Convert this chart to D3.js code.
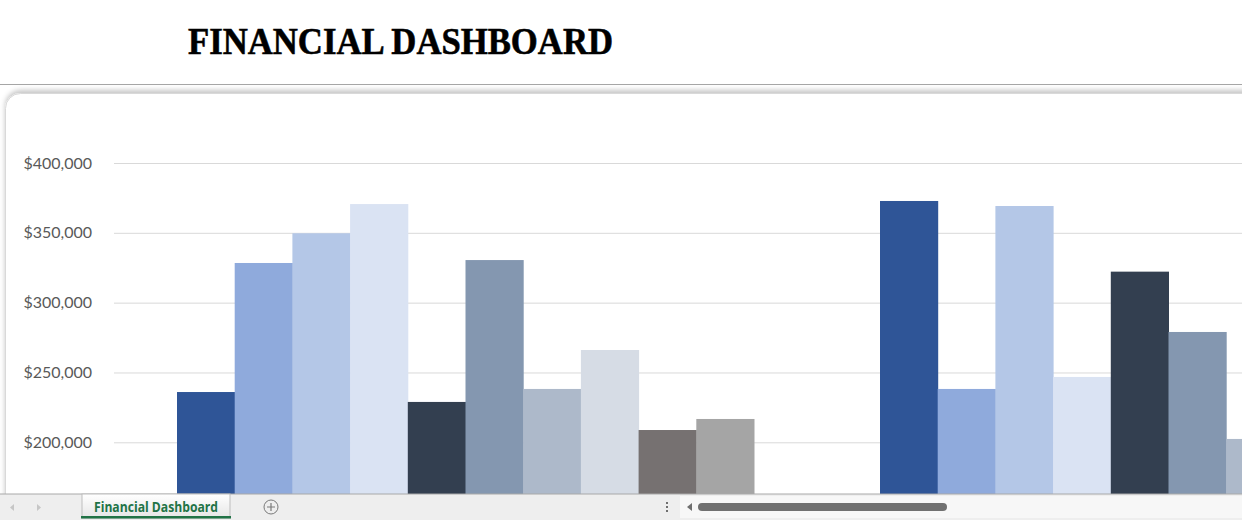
<!doctype html>
<html lang='en'>
<head>
<meta charset="utf-8">
<script src="https://d3js.org/d3.v7.min.js"></script>
<title>Financial Dashboard</title>
<style>
  body {
    margin: 0;
    width: 1242px;
    height: 520px;
    overflow: hidden;
    background-color: white;
  }
  .ylabel text {
    font-family: Lato, 'Open Sans', sans-serif;
    font-size: 16px;
    fill: #595959;
  }
  .ylabel line {
    stroke: #d9d9d9;
  }
</style>
</head>
<body>
<div id='dataHolder'></div>
<script>
// two clusters visible, ten series each (the last bars fall outside the window)
const categories = ['2022', '2023'];
const seriesNames = ['Series 1', 'Series 2', 'Series 3', 'Series 4', 'Series 5',
                     'Series 6', 'Series 7', 'Series 8', 'Series 9', 'Series 10'];
const values2022 = [236000, 328400, 349700, 370600, 228900, 330500, 238200, 266100, 208800, 216700];
const values2023 = [372800, 238200, 369200, 246800, 322200, 279000, 202400, null, null, null];
// only the ticks that show above the sheet tab bar
const yTicks = [200000, 250000, 300000, 350000, 400000];

const colors = ['#2f5597', '#8faadc', '#b4c7e7', '#dae3f3', '#333f50',
                '#8497b0', '#adb9ca', '#d6dce5', '#767171', '#a5a5a5'];

const rows = categories.map((c, i) => ({
  category: c,
  values: (i === 0 ? values2022 : values2023).map((v, j) => ({ name: seriesNames[j], value: v }))
}));

const W = 1242, H = 520;
const svg = d3.select('#dataHolder').append('svg')
  .attr('width', W).attr('height', H)
  .style('display', 'block');

const defs = svg.append('defs');
const shadow = defs.append('filter').attr('id', 'shadow')
  .attr('x', '-5%').attr('y', '-5%').attr('width', '110%').attr('height', '110%');
shadow.append('feDropShadow').attr('dx', 0).attr('dy', -3).attr('stdDeviation', 2.5)
  .attr('flood-color', '#000').attr('flood-opacity', 0.22);

const tabGrad = defs.append('linearGradient').attr('id', 'tabGrad')
  .attr('x1', 0).attr('y1', 0).attr('x2', 0).attr('y2', 1);
tabGrad.append('stop').attr('offset', '0%').attr('stop-color', '#ffffff');
tabGrad.append('stop').attr('offset', '100%').attr('stop-color', '#e6e6e6');

// title
svg.append('text')
  .attr('x', 188).attr('y', 54)
  .attr('textLength', 425).attr('lengthAdjust', 'spacingAndGlyphs')
  .style('font-family', "'Liberation Serif', 'DejaVu Serif', serif")
  .style('font-weight', 'bold')
  .style('font-size', '38px')
  .attr('fill', '#000')
  .attr('stroke', '#000').attr('stroke-width', 0.6)
  .text('FINANCIAL DASHBOARD');

// cell border line
svg.append('line')
  .attr('x1', 0).attr('x2', W).attr('y1', 84.5).attr('y2', 84.5)
  .attr('stroke', '#a6a6a6');

// chart area frame (runs past the window)
svg.append('rect')
  .attr('x', 5.5).attr('y', 93.5)
  .attr('width', 1400).attr('height', 700)
  .attr('rx', 15).attr('ry', 15)
  .attr('fill', '#fff')
  .attr('stroke', '#d9d9d9')
  .attr('filter', 'url(#shadow)');

// scales
const plotLeft = 114;
const step = 703;
const x0 = d3.scaleBand()
  .domain(categories)
  .range([plotLeft, plotLeft + categories.length * step])
  .paddingInner(126 / step)
  .paddingOuter(63 / step);

const x1 = d3.scaleBand()
  .domain(seriesNames)
  .range([0, x0.bandwidth()]);

const y = d3.scaleLinear()
  .domain([0, 400000])
  .range([721.6, 163]);

const yAxis = d3.axisLeft(y)
  .tickValues(yTicks)
  .tickFormat(d3.format('$,.0f'))
  .tickSize(-(W + 400))
  .tickPadding(22);

svg.append('g')
  .attr('class', 'ylabel')
  .attr('transform', 'translate(' + plotLeft + ',0)')
  .call(yAxis)
  .call(g => g.select('.domain').remove())
  .call(g => g.selectAll('.tick line').attr('stroke', '#d9d9d9'));

// bars
svg.append('g').selectAll('g')
  .data(rows)
  .join('g')
  .attr('transform', d => 'translate(' + x0(d.category) + ',0)')
  .selectAll('rect')
  .data(d => d.values.filter(v => v.value !== null))
  .join('rect')
  .attr('x', d => x1(d.name))
  .attr('width', x1.bandwidth() + 0.5)
  .attr('y', d => y(d.value))
  .attr('height', d => y(0) - y(d.value))
  .attr('fill', d => colors[seriesNames.indexOf(d.name)]);

// sheet tab bar
const bar = svg.append('g');
bar.append('rect').attr('x', 0).attr('y', 494).attr('width', W).attr('height', 26).attr('fill', '#eeeeee');
bar.append('line').attr('x1', 0).attr('x2', W).attr('y1', 494).attr('y2', 494).attr('stroke', '#a8a8a8');
bar.append('rect').attr('x', 680).attr('y', 496).attr('width', W - 680).attr('height', 22).attr('fill', '#f7f7f7');

// nav arrows
bar.append('path').attr('d', 'M14,504 L10,507.5 L14,511 Z').attr('fill', '#c6c6c6');
bar.append('path').attr('d', 'M37,504 L41,507.5 L37,511 Z').attr('fill', '#c6c6c6');

// active tab
bar.append('rect').attr('x', 82).attr('y', 494).attr('width', 148).attr('height', 24)
  .attr('fill', 'url(#tabGrad)').attr('stroke', '#bdbdbd');
bar.append('rect').attr('x', 81).attr('y', 516).attr('width', 150).attr('height', 2.5).attr('fill', '#217346');
bar.append('text')
  .attr('x', 94).attr('y', 511.5)
  .attr('textLength', 124).attr('lengthAdjust', 'spacingAndGlyphs')
  .style('font-family', "'Open Sans', 'Liberation Sans', sans-serif")
  .style('font-weight', 'bold')
  .style('font-size', '13.5px')
  .attr('fill', '#217346')
  .text('Financial Dashboard');

// add sheet button
bar.append('circle').attr('cx', 271).attr('cy', 507).attr('r', 7)
  .attr('fill', 'none').attr('stroke', '#7a7a7a');
bar.append('path').attr('d', 'M267,507 H275 M271,503 V511')
  .attr('stroke', '#7a7a7a').attr('stroke-width', 1.2);

// scroll controls
[503, 507, 511].forEach(cy => bar.append('circle').attr('cx', 667).attr('cy', cy).attr('r', 1).attr('fill', '#444'));
bar.append('path').attr('d', 'M692,503 L687,507 L692,511 Z').attr('fill', '#6f6f6f');
bar.append('rect').attr('x', 698).attr('y', 503).attr('width', 249).attr('height', 8)
  .attr('rx', 4).attr('fill', '#707070');
</script>
</body>
</html>
